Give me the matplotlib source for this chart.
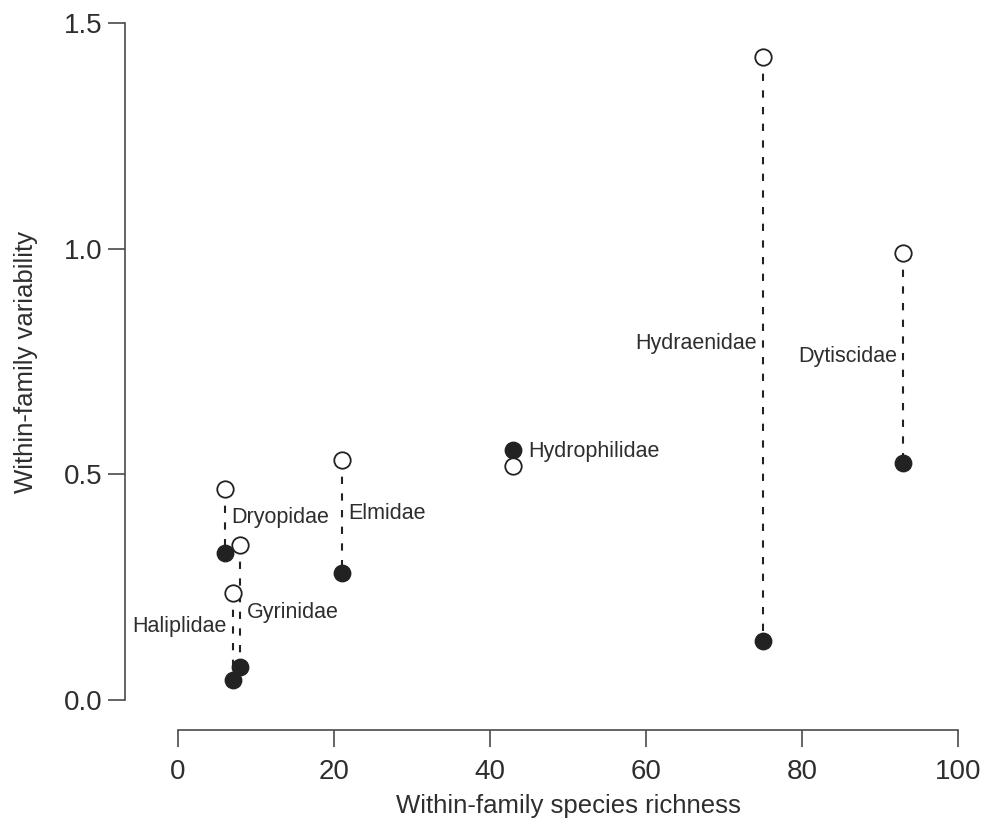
import numpy as np
import matplotlib
matplotlib.use("Agg")
import matplotlib.pyplot as plt

#----------------------------------------------------------------
# data: species richness and variability per beetle family
#----------------------------------------------------------------
families = ["Dryopidae", "Elmidae", "Gyrinidae", "Haliplidae",
            "Hydrophilidae", "Hydraenidae", "Dytiscidae"]
richness = [6, 21, 8, 7, 43, 75, 93]
var_open = [0.468, 0.532, 0.343, 0.237, 0.519, 1.425, 0.990]
var_filled = [0.326, 0.281, 0.073, 0.044, 0.554, 0.131, 0.525]

# where each family name sits (y in data units) and which side of the line
label_y = [0.405, 0.414, 0.193, 0.162, 0.550, 0.791, 0.762]
label_side = ["right", "right", "right", "left", "right", "left", "left"]

xticks = [0, 20, 40, 60, 80, 100]
yticks = [0.0, 0.5, 1.0, 1.5]

#----------------------------------------------------------------
# figure
#----------------------------------------------------------------
W, H = 985, 830
fig = plt.figure(figsize=(W / 100, H / 100), dpi=100)
ax = fig.add_axes([125 / W, 100 / H, 848.6 / W, 716 / H])
ax.set_xlim(-6.8, 102)
ax.set_ylim(-0.0665, 1.52)

ink = "#222222"
axis_col = "#4a4a4a"
txt_col = "#2e2e2e"

for x, yo, yf in zip(richness, var_open, var_filled):
    ax.plot([x, x], [yo, yf], color=ink, lw=1.5, ls=(0, (3.5, 4.5)), zorder=1)

ax.scatter(richness, var_filled, s=140, color=ink, edgecolors=ink, zorder=3)
ax.scatter(richness, var_open, s=140, facecolors="white", edgecolors=ink,
           linewidths=1.3, zorder=3)

for name, x, y, side in zip(families, richness, label_y, label_side):
    if name == "Hydrophilidae":
        dx, ha = 11, "left"
    elif side == "right":
        dx, ha = 4.5, "left"
    else:
        dx, ha = -4.5, "right"
    ax.annotate(name, (x, y), xytext=(dx, 0), textcoords="offset points",
                ha=ha, va="center", fontsize=15.5, color=txt_col,
                family="Liberation Sans")

#----------------------------------------------------------------
# detached R-style axes
#----------------------------------------------------------------
for s in ["top", "right"]:
    ax.spines[s].set_visible(False)
for s in ["left", "bottom"]:
    ax.spines[s].set_color(axis_col)
    ax.spines[s].set_linewidth(1.2)
ax.spines["left"].set_bounds(0, 1.5)
ax.spines["bottom"].set_bounds(0, 100)

ax.set_xticks(xticks)
ax.set_yticks(yticks)
ax.set_yticklabels([f"{v:.1f}" for v in yticks])
ax.tick_params(axis="both", direction="out", length=12, width=1.2,
               color=axis_col, labelcolor=txt_col, labelsize=20)
ax.tick_params(axis="y", pad=4)
ax.tick_params(axis="x", pad=9)
for lab in ax.get_xticklabels() + ax.get_yticklabels():
    lab.set_family("Liberation Sans")

ax.set_xlabel("Within-family species richness", fontsize=18.5, color=txt_col,
              family="Liberation Sans")
ax.set_ylabel("Within-family variability", fontsize=18.5, color=txt_col,
              family="Liberation Sans")
# titles centred on the drawn axis ranges
ax.xaxis.set_label_coords(0.522, -0.09)
ax.yaxis.set_label_coords(-0.103, 0.514)

plt.savefig("out.png", dpi=100)
